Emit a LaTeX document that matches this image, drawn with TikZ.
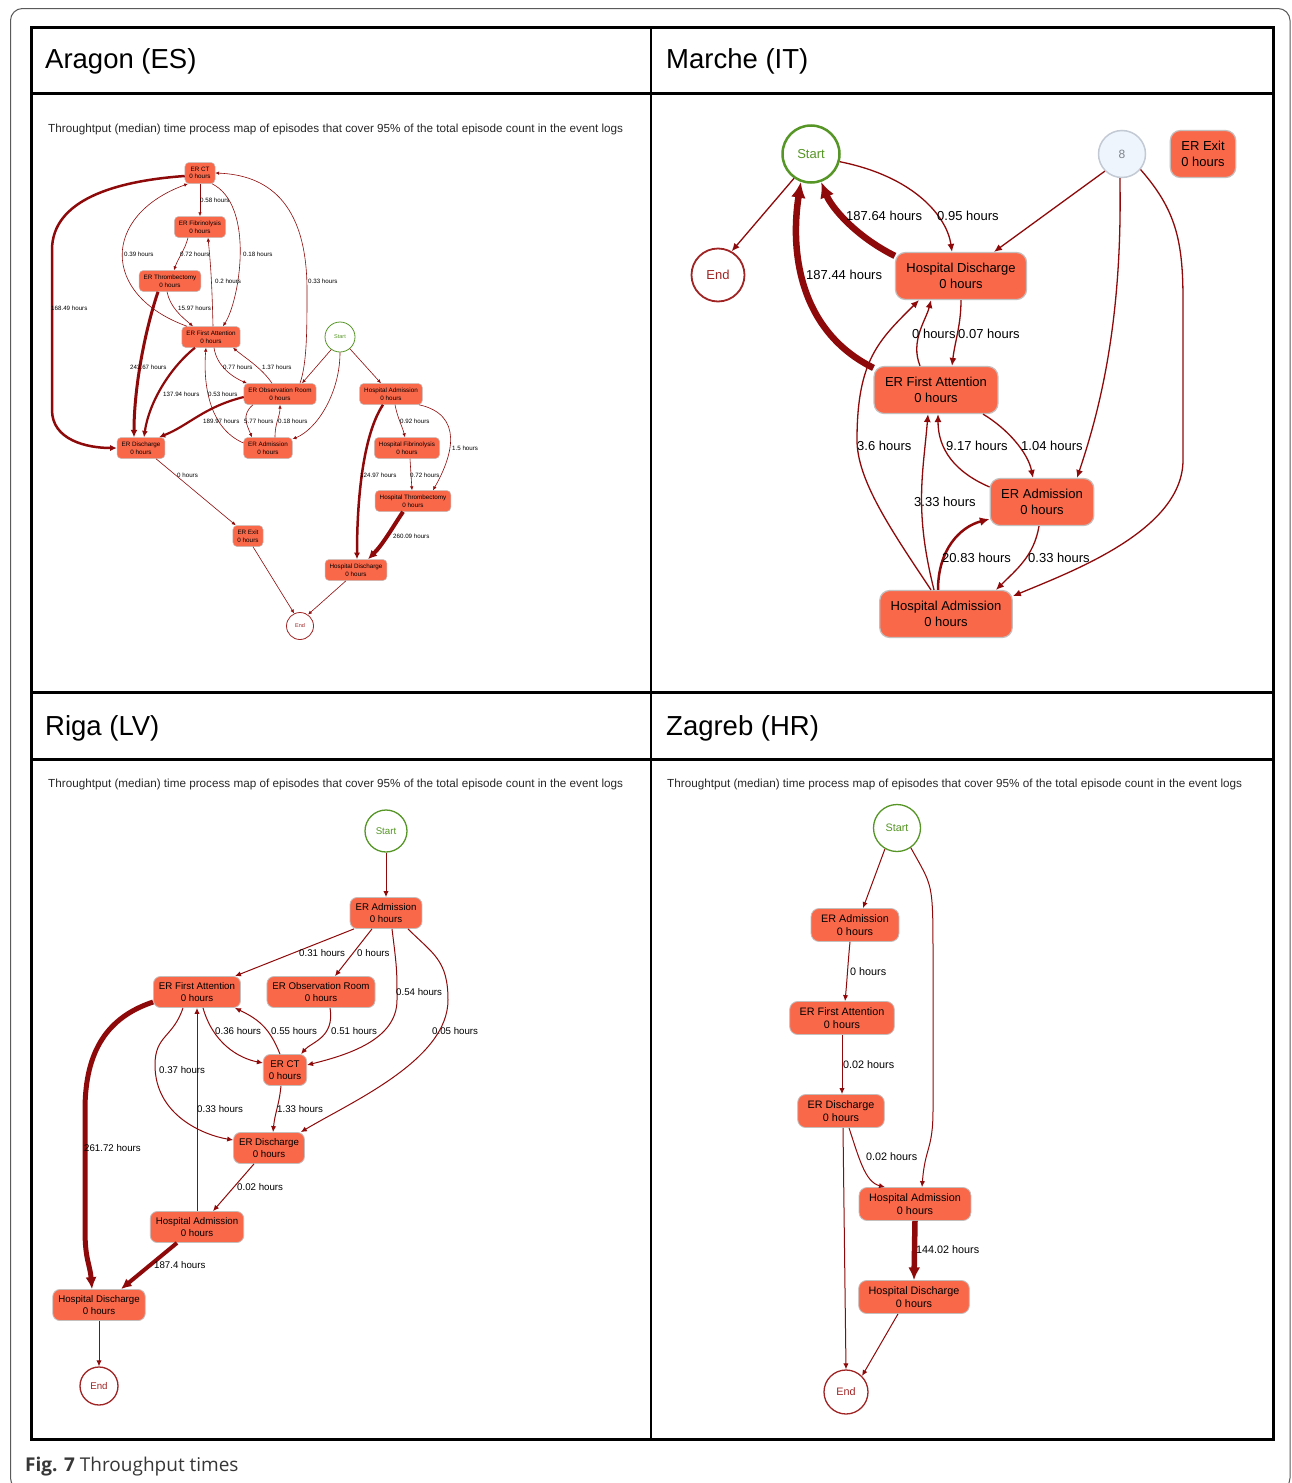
\documentclass[tikz,border=0pt]{standalone}
\usepackage{fontspec}
\setmainfont{Liberation Sans}
\newfontfamily\captionface{Open Sans}
\usetikzlibrary{arrows.meta}

\definecolor{actfill}{RGB}{250,104,74}
\definecolor{actline}{RGB}{196,190,188}
\definecolor{flow}{RGB}{142,10,10}
\definecolor{startcol}{RGB}{86,150,38}
\definecolor{endcol}{RGB}{160,36,36}
\definecolor{hubfill}{RGB}{239,245,252}
\definecolor{hubline}{RGB}{196,202,212}
\definecolor{hubtext}{RGB}{128,132,140}
\definecolor{framecol}{RGB}{90,90,90}
\definecolor{captioncol}{RGB}{55,55,55}
\definecolor{subcol}{RGB}{40,40,40}

\newcommand\fsz[2]{\fontsize{#1}{#2}\selectfont}

\begin{document}
\begin{tikzpicture}[x=1pt,y=-1pt,
  actbox/.style={draw=actline,fill=actfill,align=center,inner ysep=0pt,text=black},
  actboxA/.style={actbox,line width=0.5,rounded corners=4,font=\fsz{6.3}{7.5},inner xsep=4.5,minimum height=21},
  actboxM/.style={actbox,line width=1.2,rounded corners=10,font=\fsz{13}{16},inner xsep=11,minimum height=47},
  actboxR/.style={actbox,line width=0.8,rounded corners=7,font=\fsz{9.7}{11.6},inner xsep=5.5,minimum height=31},
  actboxZ/.style={actbox,line width=0.8,rounded corners=8,font=\fsz{10.8}{13},inner xsep=10,minimum height=33},
  ring/.style={circle,inner sep=0pt,fill=white},
  startnode/.style={ring,draw=startcol,text=startcol},
  endnode/.style={ring,draw=endcol,text=endcol},
  flowA/.style={draw=flow,line width=0.6,-{Latex[length=3pt 1.5,width=2.6pt 1.5]}},
  flowM/.style={draw=flow,line width=1.3,-{Latex[length=6pt 1.5,width=5pt 1.5]}},
  flowR/.style={draw=flow,line width=1,-{Latex[length=4.5pt 1.5,width=3.8pt 1.5]}},
  lblA/.style={anchor=west,inner sep=0pt,font=\fsz{6.2}{7}},
  lblM/.style={anchor=west,inner sep=0pt,font=\fsz{13}{15}},
  lblR/.style={anchor=west,inner sep=0pt,font=\fsz{9.7}{11}},
  lblZ/.style={anchor=west,inner sep=0pt,font=\fsz{10.8}{12}},
  subtitle/.style={anchor=west,inner sep=0pt,font=\fsz{11.7}{13},text=subcol},
  heading/.style={anchor=base west,inner sep=0pt,font=\fsz{27.5}{30}},
]
\useasboundingbox (0,0) rectangle (1292,1483);
\fill[white] (0,0) rectangle (1292,1483);

% outer frame and table grid
\draw[framecol,line width=1,rounded corners=12] (10.5,8.5) rectangle (1290,1490);
\draw[line width=3] (31,27) rectangle (1273,1439);
\draw[line width=3] (31,93) -- (1273,93);
\draw[line width=3] (31,692) -- (1273,692);
\draw[line width=3] (31,759) -- (1273,759);
\draw[line width=2] (651,27) -- (651,1439);

\node[heading] (hA) at (45,68) {Aragon (ES)};
\node[heading] (hM) at (666,68) {Marche (IT)};
\node[heading] (hR) at (45,735) {Riga (LV)};
\node[heading] (hZ) at (666,735) {Zagreb (HR)};

\node[subtitle] (sA) at (48,129) {Throughtput (median) time process map of episodes that cover 95\% of the total episode count in the event logs};
\node[subtitle] (sR) at (48,784) {Throughtput (median) time process map of episodes that cover 95\% of the total episode count in the event logs};
\node[subtitle] (sZ) at (667,784) {Throughtput (median) time process map of episodes that cover 95\% of the total episode count in the event logs};

% ---------------- Aragon ----------------
\node[actboxA] (ctA) at (200,173) {ER CT\\0 hours};
\node[actboxA] (fibA) at (200,227) {ER Fibrinolysis\\0 hours};
\node[actboxA] (thrA) at (170,281) {ER Thrombectomy\\0 hours};
\node[actboxA] (faA) at (211,337) {ER First Attention\\0 hours};
\node[actboxA] (obsA) at (280,394) {ER Observation Room\\0 hours};
\node[actboxA] (admA) at (268,448) {ER Admission\\0 hours};
\node[actboxA] (disA) at (141,448) {ER Discharge\\0 hours};
\node[startnode,line width=0.8,minimum size=30,font=\fsz{5.5}{6}] (startA) at (340,337) {Start};
\node[actboxA] (haA) at (391,394) {Hospital Admission\\0 hours};
\node[actboxA] (hfA) at (407,448) {Hospital Fibrinolysis\\0 hours};
\node[actboxA] (htA) at (413,501) {Hospital Thrombectomy\\0 hours};
\node[actboxA] (exitA) at (248,536) {ER Exit\\0 hours};
\node[actboxA] (hdA) at (356,570) {Hospital Discharge\\0 hours};
\node[endnode,line width=0.8,minimum size=27,font=\fsz{5.5}{6}] (endA) at (300,626) {End};

\draw[flowA] (ctA.south) -- (fibA.north);
\draw[flowA] ([xshift=-12pt]fibA.south) .. controls +(-3,12) and +(4,-12) .. ([xshift=4pt]thrA.north);
\draw[flowA] ([xshift=-3pt]thrA.south) .. controls +(3,15) and +(-12,-10) .. ([xshift=-18pt]faA.north);
\draw[flowA] ([xshift=-24pt]faA.north) .. controls +(-87,-31.5) and +(-86,31.5) .. ([xshift=-12pt]ctA.south);
\draw[flowA] ([xshift=12pt]ctA.south) .. controls +(43,21.5) and +(17,-26.5) .. ([xshift=12pt]faA.north);
\draw[flowA] ([xshift=2pt]faA.north) .. controls +(-1,-40) and +(3,30) .. ([xshift=8pt]fibA.south);
\draw[flowA] ([xshift=20pt]obsA.north) .. controls +(7,-20) and +(0,40) .. (307,290) .. controls +(0,-90) and +(50,2) .. (ctA.east);
\draw[flowA,line width=2.5] ([yshift=-3pt]ctA.west) .. controls +(-70,5) and +(0,-50) .. (52,250) -- (52,410) .. controls +(0,30) and +(-30,0) .. (disA.west);
\draw[flowA,line width=3] ([xshift=-12pt]thrA.south) .. controls +(-15,45) and +(0,-45) .. ([xshift=-7pt]disA.north);
\draw[flowA,line width=2.2] ([xshift=-16pt]faA.south) .. controls +(-25,20) and +(5,-35) .. ([xshift=3pt]disA.north);
\draw[flowA] ([xshift=3pt]faA.south) .. controls +(3,20) and +(-12,-5) .. ([xshift=-33pt]obsA.north);
\draw[flowA] ([xshift=-8pt]obsA.north) .. controls +(-10,-15) and +(12,10) .. ([xshift=22pt]faA.south);
\draw[flowA] ([yshift=5pt]admA.west) .. controls +(-35,-15) and +(-3,35) .. ([xshift=-5pt]faA.south);
\draw[flowA,line width=2.2] ([yshift=-3pt]obsA.west) .. controls +(-40,10) and +(30,-12) .. ([xshift=18pt]disA.north);
\draw[flowA] ([xshift=-27pt]obsA.south) .. controls +(-12,10) and +(-5,-12) .. ([xshift=-16pt]admA.north);
\draw[flowA] ([xshift=7pt]admA.north) .. controls +(0,-15) and +(0,12) .. (obsA.south);
\draw[flowA] (startA.235) -- ([xshift=22pt]obsA.north);
\draw[flowA] (startA.south) .. controls +(0,40) and +(25,-10) .. (admA.20);
\draw[flowA] (startA.-50) -- ([xshift=-10pt]haA.north);
\draw[flowA] ([xshift=4pt]haA.south) .. controls +(3,15) and +(-3,-12) .. ([xshift=-2pt]hfA.north);
\draw[flowA,line width=2.5] ([xshift=-8pt]haA.south) .. controls +(-20,30) and +(0,-60) .. ([xshift=1pt]hdA.north);
\draw[flowA] ([xshift=28pt]haA.south) .. controls +(45,10) and +(20,-35) .. ([xshift=20pt]htA.north);
\draw[flowA] ([xshift=3pt]hfA.south) -- ([xshift=-1pt]htA.north);
\draw[flowA,line width=4] ([xshift=-10pt]htA.south) .. controls +(-10,15) and +(15,-15) .. ([xshift=12pt]hdA.north);
\draw[flowA] ([xshift=15pt]disA.south) -- ([xshift=3pt]exitA.north west);
\draw[flowA] ([xshift=5pt]exitA.south) -- (endA.115);
\draw[flowA] ([xshift=-10pt]hdA.south) -- (endA.55);

\node[lblA] (tA1) at (200,200) {0.58 hours};
\node[lblA] (tA2) at (180,254) {0.72 hours};
\node[lblA] (tA3) at (124,254) {0.39 hours};
\node[lblA] (tA4) at (243,254) {0.18 hours};
\node[lblA] (tA5) at (215,281) {0.2 hours};
\node[lblA] (tA6) at (308,281) {0.33 hours};
\node[lblA] (tA7) at (178,308) {15.97 hours};
\node[lblA] (tA8) at (51,308) {168.49 hours};
\node[lblA] (tA9) at (130,367) {243.67 hours};
\node[lblA] (tA10) at (223,367) {0.77 hours};
\node[lblA] (tA11) at (262,367) {1.37 hours};
\node[lblA] (tA12) at (163,394) {137.94 hours};
\node[lblA] (tA13) at (208,394) {0.53 hours};
\node[lblA] (tA14) at (203,421) {189.97 hours};
\node[lblA] (tA15) at (244,421) {5.77 hours};
\node[lblA] (tA16) at (278,421) {0.18 hours};
\node[lblA] (tA17) at (400,421) {0.92 hours};
\node[lblA] (tA18) at (452,448) {1.5 hours};
\node[lblA] (tA19) at (177,475) {0 hours};
\node[lblA] (tA20) at (360,475) {124.97 hours};
\node[lblA] (tA21) at (410,475) {0.72 hours};
\node[lblA] (tA22) at (393,536) {260.09 hours};

% ---------------- Marche ----------------
\node[startnode,line width=2.5,minimum size=57,font=\fsz{13}{15}] (startM) at (811,154) {Start};
\node[endnode,line width=1.8,minimum size=53,font=\fsz{13}{15}] (endM) at (718,275) {End};
\node[ring,draw=hubline,fill=hubfill,text=hubtext,line width=1.5,minimum size=47,font=\fsz{12}{14}] (hubM) at (1122,154) {8};
\node[actboxM] (exitM) at (1203,154) {ER Exit\\0 hours};
\node[actboxM] (hdM) at (961,276) {Hospital Discharge\\0 hours};
\node[actboxM] (faM) at (936,390) {ER First Attention\\0 hours};
\node[actboxM] (admM) at (1042,502) {ER Admission\\0 hours};
\node[actboxM] (haM) at (946,614) {Hospital Admission\\0 hours};

\draw[flowM] (startM.235) -- (endM.60);
\draw[flowM] (startM.-15) .. controls +(75,15) and +(-5,-35) .. ([xshift=-9pt]hdM.north);
\draw[flowM,line width=6.5] ([yshift=-4pt]hdM.north west) .. controls +(-40,-20) and +(10,25) .. (startM.-70);
\draw[flowM,line width=6.5] ([yshift=-2pt]faM.north west) .. controls +(-74,-36.5) and +(-11,70) .. (startM.-110);
\draw[flowM] (hubM.225) -- ([xshift=33pt]hdM.north);
\draw[flowM] (hubM.-95) .. controls +(3,150) and +(20,-60) .. ([xshift=35pt]admM.north);
\draw[flowM] (hubM.-40) .. controls +(35,40) and +(0,-60) .. (1183,300) -- (1183,460) .. controls +(0,70) and +(60,-25) .. (haM.15);
\draw[flowM] ([xshift=-16pt]faM.north) .. controls +(-10,-25) and +(-5,20) .. ([xshift=-30pt]hdM.south);
\draw[flowM] (hdM.south) .. controls +(0,25) and +(3,-25) .. ([xshift=16pt]faM.north);
\draw[flowM] ([xshift=-15pt]haM.north) .. controls +(-40,-60) and +(0,40) .. (857,440) .. controls +(0,-80) and +(-40,40) .. ([xshift=-42pt]hdM.south);
\draw[flowM] ([xshift=-12pt]haM.north) .. controls +(-20,-80) and +(-5,60) .. ([xshift=-8pt]faM.south);
\draw[flowM] ([yshift=15pt]admM.west) .. controls +(-35,-15) and +(0,35) .. ([xshift=2pt]faM.south);
\draw[flowM] ([xshift=47pt]faM.south) .. controls +(25,15) and +(-5,-25) .. ([xshift=-9pt]admM.north);
\draw[flowM,line width=2.5] ([xshift=-8pt]haM.north) .. controls +(0,-40) and +(-30,8) .. ([yshift=-17pt]admM.west);
\draw[flowM] ([xshift=-3pt]admM.south) .. controls +(-5,30) and +(20,-20) .. ([xshift=50pt]haM.north);

\node[lblM] (tM1) at (846,216) {187.64 hours};
\node[lblM] (tM2) at (937,216) {0.95 hours};
\node[lblM] (tM3) at (806,275) {187.44 hours};
\node[lblM] (tM4) at (912,334) {0 hours};
\node[lblM] (tM5) at (958,334) {0.07 hours};
\node[lblM] (tM6) at (857,446) {3.6 hours};
\node[lblM] (tM7) at (946,446) {9.17 hours};
\node[lblM] (tM8) at (1021,446) {1.04 hours};
\node[lblM] (tM9) at (914,502) {3.33 hours};
\node[lblM] (tM10) at (942,558) {20.83 hours};
\node[lblM] (tM11) at (1028,558) {0.33 hours};

% ---------------- Riga ----------------
\node[startnode,line width=1.3,minimum size=42,font=\fsz{9.7}{11}] (startR) at (386,831) {Start};
\node[actboxR] (admR) at (386,913) {ER Admission\\0 hours};
\node[actboxR] (faR) at (197,992) {ER First Attention\\0 hours};
\node[actboxR] (obsR) at (321,992) {ER Observation Room\\0 hours};
\node[actboxR] (ctR) at (285,1070) {ER CT\\0 hours};
\node[actboxR] (disR) at (269,1148) {ER Discharge\\0 hours};
\node[actboxR] (haR) at (197,1227) {Hospital Admission\\0 hours};
\node[actboxR] (hdR) at (99,1305) {Hospital Discharge\\0 hours};
\node[endnode,line width=1.3,minimum size=38,font=\fsz{9.7}{11}] (endR) at (99,1386) {End};

\draw[flowR] (startR.south) -- (admR.north);
\draw[flowR] ([xshift=-32pt]admR.south) -- ([xshift=38pt]faR.north);
\draw[flowR] ([xshift=-14pt]admR.south) -- ([xshift=14pt]obsR.north);
\draw[flowR] ([xshift=6pt]admR.south) .. controls +(5,40) and +(0,-30) .. (397,1000) .. controls +(0,40) and +(40,-10) .. ([yshift=5pt]ctR.east);
\draw[flowR] ([xshift=22pt]admR.south) .. controls +(25,25) and +(0,-40) .. (448,1000) .. controls +(0,60) and +(50,-30) .. ([xshift=-4pt]disR.north east);
\draw[flowR] ([xshift=6pt]faR.south) .. controls +(10,35) and +(-25,-5) .. ([yshift=7pt]ctR.west);
\draw[flowR] ([xshift=-5pt]ctR.north) .. controls +(-10,-25) and +(25,12) .. ([xshift=-6pt]faR.south east);
\draw[flowR] ([xshift=9pt]obsR.south) .. controls +(5,30) and +(10,-12) .. ([xshift=-6pt]ctR.north east);
\draw[flowR] ([xshift=-14pt]faR.south) .. controls +(-10,30) and +(0,-30) .. (155,1065) .. controls +(0,50) and +(-30,-5) .. ([yshift=8pt]disR.west);
\draw[flowR] (haR.north) -- (faR.south);
\draw[flowR] ([xshift=-4pt]ctR.south) .. controls +(-2,20) and +(2,-20) .. ([xshift=4pt]disR.north);
\draw[flowR,line width=5] ([yshift=-10pt]faR.west) .. controls +(-45,15) and +(0,-60) .. (85,1110) -- (85,1230) .. controls +(0,30) and +(-2,-25) .. ([xshift=-7pt]hdR.north);
\draw[flowR] ([xshift=-15pt]disR.south) -- ([xshift=16pt]haR.north);
\draw[flowR,line width=4] ([xshift=-20pt]haR.south) -- ([xshift=22pt]hdR.north);
\draw[flowR] (hdR.south) -- (endR.north);

\node[lblR] (tR1) at (299,953) {0.31 hours};
\node[lblR] (tR2) at (357,953) {0 hours};
\node[lblR] (tR3) at (396,992) {0.54 hours};
\node[lblR] (tR4) at (215,1031) {0.36 hours};
\node[lblR] (tR5) at (271,1031) {0.55 hours};
\node[lblR] (tR6) at (331,1031) {0.51 hours};
\node[lblR] (tR7) at (432,1031) {0.05 hours};
\node[lblR] (tR8) at (159,1070) {0.37 hours};
\node[lblR] (tR9) at (197,1109) {0.33 hours};
\node[lblR] (tR10) at (277,1109) {1.33 hours};
\node[lblR] (tR11) at (84,1148) {261.72 hours};
\node[lblR] (tR12) at (237,1187) {0.02 hours};
\node[lblR] (tR13) at (154,1265) {187.4 hours};

% ---------------- Zagreb ----------------
\node[startnode,line width=1.3,minimum size=47,font=\fsz{10.8}{12}] (startZ) at (897,828) {Start};
\node[actboxZ] (admZ) at (855,925) {ER Admission\\0 hours};
\node[actboxZ] (faZ) at (842,1018) {ER First Attention\\0 hours};
\node[actboxZ] (disZ) at (841,1111) {ER Discharge\\0 hours};
\node[actboxZ] (haZ) at (915,1204) {Hospital Admission\\0 hours};
\node[actboxZ] (hdZ) at (914,1297) {Hospital Discharge\\0 hours};
\node[endnode,line width=1.3,minimum size=44,font=\fsz{10.8}{12}] (endZ) at (846,1392) {End};

\draw[flowR] (startZ.240) -- ([xshift=8pt]admZ.north);
\draw[flowR] (startZ.-55) .. controls +(22,40) and +(0,-80) .. (933,960) -- (933,1110) .. controls +(0,40) and +(3,-40) .. ([xshift=7pt]haZ.north);
\draw[flowR] ([xshift=-5pt]admZ.south) .. controls +(-2,20) and +(2,-20) .. ([xshift=3pt]faZ.north);
\draw[flowR] (faZ.south) -- ([xshift=1pt]disZ.north);
\draw[flowR] ([xshift=8pt]disZ.south) .. controls +(10,30) and +(-20,-5) .. ([xshift=-30pt]haZ.north);
\draw[flowR] ([xshift=2pt]disZ.south) -- (endZ.north);
\draw[flowR,line width=5.5] (haZ.south) -- (hdZ.north);
\draw[flowR] ([xshift=-16pt]hdZ.south) -- (endZ.45);

\node[lblZ] (tZ1) at (850,972) {0 hours};
\node[lblZ] (tZ2) at (843,1065) {0.02 hours};
\node[lblZ] (tZ3) at (866,1157) {0.02 hours};
\node[lblZ] (tZ4) at (916,1250) {144.02 hours};

% caption
\node[anchor=base west,inner sep=0pt,text=captioncol,font=\captionface\fsz{19}{22}] (cap) at (25,1471) {\textbf{Fig. 7} Throughput times};
\end{tikzpicture}
\end{document}
